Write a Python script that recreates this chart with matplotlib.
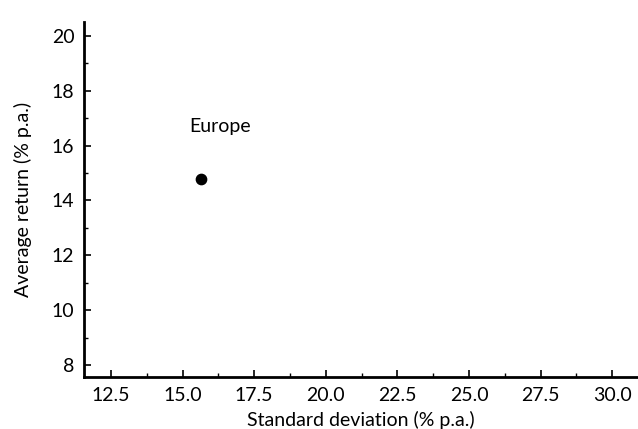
import matplotlib
matplotlib.use("Agg")
import matplotlib.pyplot as plt
from matplotlib.ticker import MultipleLocator

# data
regions = ["Europe"]
std_dev = [15.65]
avg_return = [14.78]
label_pos = [(16.3, 16.7)]

xticks = [12.5, 15.0, 17.5, 20.0, 22.5, 25.0, 27.5, 30.0]
yticks = [8, 10, 12, 14, 16, 18, 20]

plt.rcParams['font.family'] = ['Lato', 'DejaVu Sans']

fig = plt.figure(figsize=(6.38, 4.29), dpi=100)
ax = fig.add_axes([0.1317, 0.1212, 0.8683, 0.8275])

ax.scatter(std_dev, avg_return, s=55, color='black', zorder=3)
for name, (lx, ly) in zip(regions, label_pos):
    ax.text(lx, ly, name, ha='center', va='center', fontsize=14, color='black')

ax.set_xlim(11.56, 30.9)
ax.set_ylim(7.56, 20.51)
ax.set_xticks(xticks)
ax.set_xticklabels(["%.1f" % v for v in xticks])
ax.set_yticks(yticks)
ax.xaxis.set_minor_locator(MultipleLocator(1.25))
ax.yaxis.set_minor_locator(MultipleLocator(1))

ax.spines['top'].set_visible(False)
ax.spines['right'].set_visible(False)
ax.spines['left'].set_linewidth(2)
ax.spines['bottom'].set_linewidth(2)

ax.tick_params(which='major', direction='in', length=5, width=1.2, labelsize=14, pad=7)
ax.tick_params(which='minor', direction='in', length=3, width=1)

ax.set_xlabel("Standard deviation (% p.a.)", fontsize=14, labelpad=5)
ax.set_ylabel("Average return (% p.a.)", fontsize=14, labelpad=14)

fig.savefig("out.png", dpi=100)
